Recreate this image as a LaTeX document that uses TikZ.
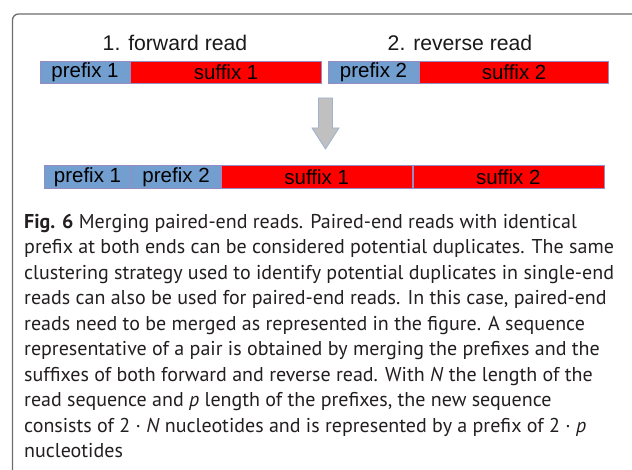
\documentclass[tikz,border=0pt]{standalone}
\usepackage{fontspec}
\setmainfont{Liberation Sans}
\newfontfamily\capfont{PT Sans}
\definecolor{prefcol}{RGB}{114,159,207}
\definecolor{sufcol}{RGB}{255,0,0}
\definecolor{boxline}{RGB}{150,140,195}
\definecolor{arrowfill}{RGB}{192,192,192}
\definecolor{arrowline}{RGB}{160,178,205}
\definecolor{framecol}{RGB}{110,110,110}
\definecolor{captext}{RGB}{35,31,32}
\begin{document}
\begin{tikzpicture}[x=1pt,y=-1pt,
  seg/.style={draw=boxline, line width=0.6pt, inner sep=0pt, minimum height=22.5pt,
    font=\fontsize{20.5}{22}\selectfont, text=black},
  prefbox/.style={seg, fill=prefcol},
  sufbox/.style={seg, fill=sufcol},
  readlabel/.style={font=\fontsize{21.2}{23}\selectfont, text=black!90, inner sep=0pt}
]
\useasboundingbox (0,0) rectangle (632,470);
\clip (0,0) rectangle (632,470);
\fill[white] (0,0) rectangle (632,470);

% panel frame, open to the right and bottom
\draw[framecol, line width=1.3pt, rounded corners=6pt] (640,14) -- (12.5,14) -- (12.5,480);

% read titles
\node[readlabel] (t1) at (175,43) {1. forward read};
\node[readlabel] (t2) at (460,43) {2. reverse read};

% forward and reverse reads
\node[prefbox, minimum width=90pt] (fp1) at (85,72.3) {prefix 1};
\node[sufbox, minimum width=191pt, anchor=west] (fs1) at (fp1.east) {suffix 1};
\node[prefbox, minimum width=91pt] (rp2) at (373.5,72.3) {prefix 2};
\node[sufbox, minimum width=189pt, anchor=west] (rs2) at (rp2.east) {suffix 2};

% merged read
\node[prefbox, minimum width=87pt] (mp1) at (87.5,177) {prefix 1};
\node[prefbox, minimum width=89pt, anchor=west] (mp2) at (mp1.east) {prefix 2};
\node[sufbox, minimum width=191pt, anchor=west] (ms1) at (mp2.east) {suffix 1};
\node[sufbox, minimum width=191pt, anchor=west] (ms2) at (ms1.east) {suffix 2};

% block arrow from the reads down to the merged read
\coordinate (ar) at (325.5,98);
\draw[arrowline, fill=arrowfill, line width=0.8pt]
  (ar) ++(-7,0) -- ++(0,30) -- ++(-6.5,0) -- ++(13.5,21)
  -- ++(13.5,-21) -- ++(-6.5,0) -- ++(0,-30) -- cycle;

% caption
\node[anchor=north west, align=left, inner sep=0pt, text=captext,
  font=\capfont\fontsize{20.0}{25.5}\selectfont] (cap) at (24,214) {%
\textbf{Fig. 6} Merging paired-end reads. Paired-end reads with identical\\
prefix at both ends can be considered potential duplicates. The same\\
clustering strategy used to identify potential duplicates in single-end\\
reads can also be used for paired-end reads. In this case, paired-end\\
reads need to be merged as represented in the figure. A sequence\\
representative of a pair is obtained by merging the prefixes and the\\
suffixes of both forward and reverse read. With \textit{N} the length of the\\
read sequence and \textit{p} length of the prefixes, the new sequence\\
consists of 2 · \textit{N} nucleotides and is represented by a prefix of 2 · \textit{p}\\
nucleotides};
\end{tikzpicture}
\end{document}
